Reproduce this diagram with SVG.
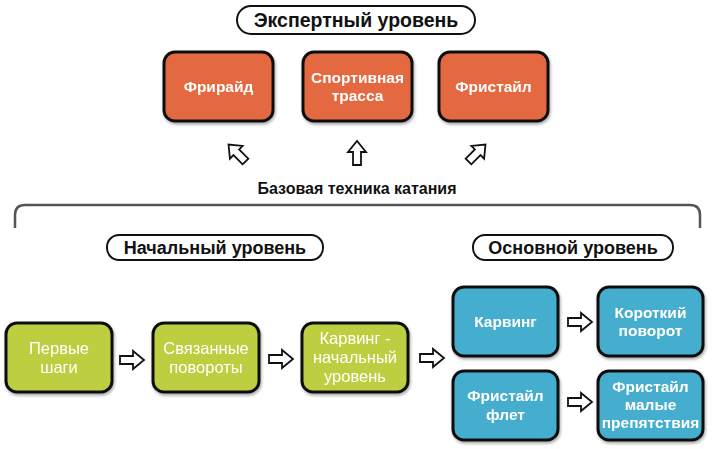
<svg xmlns="http://www.w3.org/2000/svg" width="713" height="449" viewBox="0 0 713 449">
<defs>
<style>
.box{stroke:#111;stroke-width:3}
.org{fill:#E5693F}
.grn{fill:#BDCF3F}
.blu{fill:#44ADCD}
.pill{fill:#fff;stroke:#111;stroke-width:2}
.t{font-family:"Liberation Sans",Arial,sans-serif;text-anchor:middle}
.wb{fill:#fff;font-weight:bold;font-size:15.5px}
.wn{fill:#fff;font-size:16.5px}
.lbl{fill:#111;font-weight:bold;font-size:18px}
.arr{fill:#fff;stroke:#111;stroke-width:1.8;stroke-linejoin:miter}
</style>
<filter id="sh" x="-10%" y="-10%" width="130%" height="130%">
<feGaussianBlur in="SourceAlpha" stdDeviation="1.5"/>
<feOffset dx="1" dy="2" result="b"/>
<feComponentTransfer><feFuncA type="linear" slope="0.35"/></feComponentTransfer>
<feMerge><feMergeNode/><feMergeNode in="SourceGraphic"/></feMerge>
</filter>
<path id="ar" d="M-12,-4 L1,-4 L1,-9 L12,0 L1,9 L1,4 L-12,4 Z"/>
</defs>
<rect width="713" height="449" fill="#fff"/>

<g id="expert-level">
<rect class="pill" x="237" y="6" width="238" height="28" rx="14"/>
<text class="t lbl" x="356" y="27" style="font-size:19.5px">Экспертный уровень</text>
</g>

<g id="freeride" filter="url(#sh)">
<rect class="box org" x="164" y="52" width="109" height="69" rx="11"/>
<text class="t wb" x="218.5" y="92">Фрирайд</text>
</g>
<g id="sport-track" filter="url(#sh)">
<rect class="box org" x="303" y="52" width="109" height="69" rx="11"/>
<text class="t wb" x="357.5" y="83">Спортивная</text>
<text class="t wb" x="357.5" y="101">трасса</text>
</g>
<g id="freestyle" filter="url(#sh)">
<rect class="box org" x="439" y="52" width="109" height="69" rx="11"/>
<text class="t wb" x="493.5" y="92">Фристайл</text>
</g>

<g id="base-technique">
<text class="t lbl" x="357" y="194" style="font-size:16px">Базовая техника катания</text>
<path d="M15,228 L15,215 Q15,205 25,205 L690,205 Q700,205 700,215 L700,228" fill="none" stroke="#555" stroke-width="2.5"/>
</g>

<g id="initial-level">
<rect class="pill" x="107" y="235" width="216" height="25" rx="12"/>
<text class="t lbl" x="215" y="254">Начальный уровень</text>
</g>
<g id="main-level">
<rect class="pill" x="473" y="235" width="200" height="25" rx="12"/>
<text class="t lbl" x="573" y="254">Основной уровень</text>
</g>

<g id="first-steps" filter="url(#sh)">
<rect class="box grn" x="6" y="323" width="106" height="69" rx="11"/>
<text class="t wn" x="59" y="354">Первые</text>
<text class="t wn" x="59" y="373">шаги</text>
</g>
<g id="linked-turns" filter="url(#sh)">
<rect class="box grn" x="153" y="323" width="106" height="69" rx="11"/>
<text class="t wn" x="206" y="354">Связанные</text>
<text class="t wn" x="206" y="373">повороты</text>
</g>
<g id="carving-initial" filter="url(#sh)">
<rect class="box grn" x="302" y="323" width="106" height="69" rx="11"/>
<text class="t wn" x="355" y="344">Карвинг -</text>
<text class="t wn" x="355" y="363">начальный</text>
<text class="t wn" x="355" y="382">уровень</text>
</g>

<g id="carving" filter="url(#sh)">
<rect class="box blu" x="453" y="287" width="105" height="69" rx="11"/>
<text class="t wb" x="505.5" y="327">Карвинг</text>
</g>
<g id="short-turn" filter="url(#sh)">
<rect class="box blu" x="598" y="287" width="105" height="69" rx="11"/>
<text class="t wb" x="650.5" y="318">Короткий</text>
<text class="t wb" x="650.5" y="336">поворот</text>
</g>
<g id="freestyle-flat" filter="url(#sh)">
<rect class="box blu" x="453" y="371" width="105" height="69" rx="11"/>
<text class="t wb" x="505.5" y="401">Фристайл</text>
<text class="t wb" x="505.5" y="420">флет</text>
</g>
<g id="freestyle-obstacles" filter="url(#sh)">
<rect class="box blu" x="598" y="371" width="105" height="69" rx="11"/>
<text class="t wb" x="650.5" y="392">Фристайл</text>
<text class="t wb" x="650.5" y="410">малые</text>
<text class="t wb" x="650.5" y="428">препятствия</text>
</g>

<g id="connectors">
<use href="#ar" class="arr" transform="translate(237,153) rotate(-135)"/>
<use href="#ar" class="arr" transform="translate(357,153) rotate(-90)"/>
<use href="#ar" class="arr" transform="translate(477,153) rotate(-45)"/>
<use href="#ar" class="arr" transform="translate(132,360)"/>
<use href="#ar" class="arr" transform="translate(281,359)"/>
<use href="#ar" class="arr" transform="translate(432,358)"/>
<use href="#ar" class="arr" transform="translate(580,322)"/>
<use href="#ar" class="arr" transform="translate(580,402)"/>
</g>
</svg>
